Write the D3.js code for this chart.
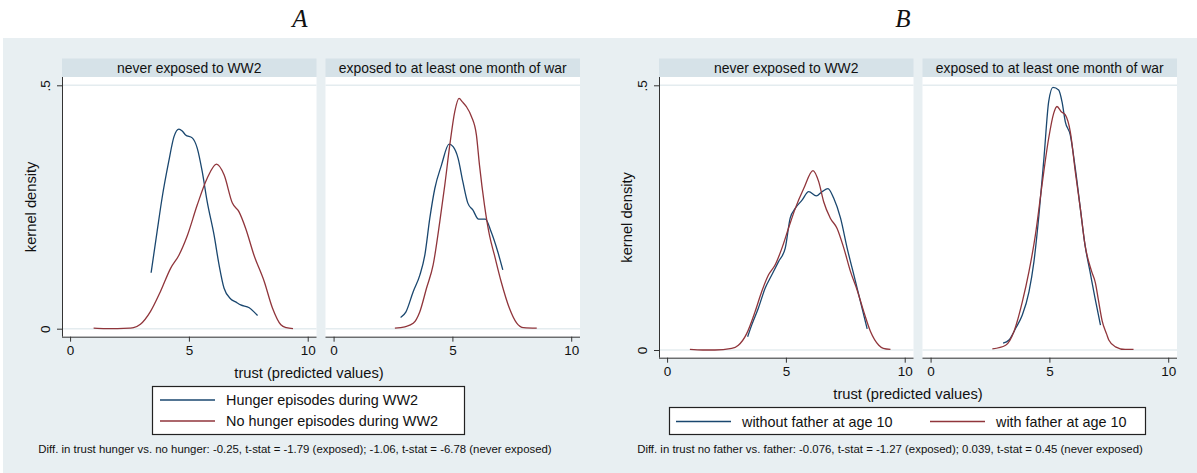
<!DOCTYPE html>
<html>
<head>
<meta charset="utf-8">
<script src="https://cdn.jsdelivr.net/npm/d3@7"></script>
<style>
  html, body { margin: 0; padding: 0; background: #ffffff; }
  svg { display: block; }
  text { font-family: "Liberation Sans", Arial, Helvetica, sans-serif; fill: #111; }
</style>
</head>
<body>
<svg id="chart" width="1197" height="473"></svg>
<script>
// ---- Data: kernel density of predicted trust, [trust, density] ----
const facetLabels = ["never exposed to WW2", "exposed to at least one month of war"];
const xTicks = [0, 5, 10];
const yTicks = [0, 0.5];
const yTickLabels = ["0", ".5"];

// Graph A: hunger episodes
const hungerNever = [[3.41,0.115],[3.66,0.199],[3.87,0.268],[4.15,0.343],[4.37,0.394],[4.58,0.410],[4.72,0.406],[4.86,0.398],[5.14,0.392],[5.35,0.371],[5.56,0.323],[5.77,0.261],[6.06,0.192],[6.27,0.131],[6.48,0.083],[6.76,0.061],[6.97,0.055],[7.18,0.049],[7.54,0.043],[7.89,0.027]];
const noHungerNever = [[0.99,0.001],[1.5,0.0],[2.0,0.0],[2.5,0.001],[2.67,0.002],[2.96,0.009],[3.38,0.035],[3.80,0.076],[4.23,0.124],[4.58,0.151],[4.94,0.192],[5.35,0.254],[5.77,0.309],[6.16,0.338],[6.48,0.316],[6.83,0.258],[7.11,0.240],[7.39,0.206],[7.74,0.151],[8.17,0.097],[8.52,0.042],[8.87,0.008],[9.1,0.002],[9.38,0.0]];
const hungerExposed = [[2.82,0.023],[3.04,0.034],[3.35,0.076],[3.63,0.110],[3.84,0.151],[4.05,0.227],[4.26,0.288],[4.54,0.336],[4.86,0.379],[5.03,0.374],[5.24,0.350],[5.44,0.302],[5.65,0.258],[5.86,0.244],[6.10,0.225],[6.39,0.225],[6.63,0.199],[6.91,0.158],[7.12,0.121]];
const noHungerExposed = [[2.58,0.001],[3.00,0.004],[3.35,0.011],[3.63,0.035],[3.91,0.083],[4.19,0.131],[4.47,0.220],[4.68,0.295],[4.89,0.377],[5.10,0.446],[5.28,0.473],[5.42,0.466],[5.59,0.456],[5.80,0.436],[6.01,0.398],[6.14,0.336],[6.35,0.254],[6.56,0.192],[6.77,0.151],[7.05,0.097],[7.40,0.042],[7.7,0.012],[8.0,0.002],[8.55,0.001]];

// Graph B: father present at age 10
const noFatherNever = [[3.39,0.025],[3.56,0.047],[3.84,0.079],[4.13,0.117],[4.41,0.142],[4.69,0.167],[4.97,0.192],[5.18,0.249],[5.40,0.268],[5.68,0.283],[5.96,0.299],[6.28,0.291],[6.52,0.299],[6.77,0.305],[7.01,0.287],[7.30,0.249],[7.58,0.192],[7.86,0.142],[8.14,0.091],[8.42,0.040]];
const fatherNever = [[0.96,0.001],[1.5,0.0],[2.01,0.0],[2.72,0.003],[3.00,0.009],[3.35,0.031],[3.70,0.072],[3.98,0.110],[4.27,0.142],[4.55,0.161],[4.83,0.192],[5.11,0.230],[5.40,0.268],[5.75,0.305],[6.14,0.339],[6.38,0.318],[6.59,0.280],[6.87,0.249],[7.15,0.230],[7.44,0.192],[7.72,0.148],[8.00,0.113],[8.28,0.072],[8.56,0.035],[8.91,0.009],[9.1,0.003],[9.4,0.001]];
const noFatherExposed = [[3.05,0.013],[3.30,0.019],[3.58,0.041],[3.86,0.066],[4.14,0.110],[4.35,0.167],[4.56,0.255],[4.77,0.362],[4.97,0.469],[5.15,0.496],[5.39,0.491],[5.53,0.469],[5.67,0.431],[5.88,0.406],[6.09,0.343],[6.30,0.268],[6.50,0.198],[6.71,0.148],[6.92,0.098],[7.15,0.047]];
const fatherExposed = [[2.60,0.002],[3.16,0.009],[3.51,0.035],[3.86,0.091],[4.14,0.148],[4.41,0.217],[4.69,0.312],[4.97,0.400],[5.18,0.447],[5.32,0.460],[5.50,0.450],[5.67,0.444],[5.88,0.412],[6.09,0.337],[6.30,0.268],[6.50,0.198],[6.78,0.148],[6.94,0.126],[7.06,0.095],[7.22,0.055],[7.41,0.030],[7.5,0.019],[7.78,0.006],[8.19,0.001],[8.54,0.001]];

const legendA = ["Hunger episodes during WW2", "No hunger episodes during WW2"];
const legendB = ["without father at age 10", "with father at age 10"];
const noteA = "Diff. in trust hunger vs. no hunger: -0.25, t-stat = -1.79 (exposed); -1.06, t-stat = -6.78 (never exposed)";
const noteB = "Diff. in trust no father vs. father: -0.076, t-stat = -1.27 (exposed); 0.039, t-stat = 0.45 (never exposed)";

const BLUE = "#1a476f", RED = "#90353b";
const BG = "#e8eff2", HEADER = "#d6e2e8", GRID = "#e4ecef";

const svg = d3.select("#chart");

// shared light background behind both graphs
svg.append("rect").attr("x", 3).attr("y", 38).attr("width", 1194).attr("height", 435).attr("fill", BG);

const graphs = [
  {
    title: "A", titleX: 300, left: 62,
    plotBottom: 336.7, y0: 328.7,
    panels: [[hungerNever, noHungerNever], [hungerExposed, noHungerExposed]],
    legend: legendA, legendRows: 2,
    legendBox: {x: 152, y: 386, w: 312, h: 48},
    xTitleX: 309, xTitleY: 378,
    yTitleX: 31,
    note: noteA, noteX: 295
  },
  {
    title: "B", titleX: 903, left: 659,
    plotBottom: 357.7, y0: 350,
    panels: [[noFatherNever, fatherNever], [noFatherExposed, fatherExposed]],
    legend: legendB, legendRows: 1,
    legendBox: {x: 669, y: 407, w: 476, h: 27},
    xTitleX: 908, xTitleY: 399,
    yTitleX: 627,
    note: noteB, noteX: 890
  }
];

const panelW = 254.5, gap = 9, headerTop = 58.5, headerBottom = 77, yHalf = 85.3;
const colors = [BLUE, RED];

graphs.forEach(g => {
  const G = svg.append("g");

  // graph letter
  G.append("text").attr("x", g.titleX).attr("y", 27).attr("text-anchor", "middle")
    .style("font-family", "'Liberation Serif', 'DejaVu Serif', serif")
    .style("font-style", "italic").style("font-size", "25px").text(g.title);

  const y = d3.scaleLinear().domain([0, 0.5]).range([g.y0, yHalf]);

  g.panels.forEach((series, p) => {
    const px = g.left + p * (panelW + gap);
    const x = d3.scaleLinear().domain([-0.34, 10.37]).range([px, px + panelW]);

    // facet header
    G.append("rect").attr("x", px).attr("y", headerTop).attr("width", panelW)
      .attr("height", headerBottom - headerTop).attr("fill", HEADER);
    G.append("text").attr("x", px + panelW / 2).attr("y", (headerTop + headerBottom) / 2 + 5)
      .attr("text-anchor", "middle").style("font-size", "13.9px").text(facetLabels[p]);

    // plot region
    G.append("rect").attr("x", px).attr("y", headerBottom).attr("width", panelW)
      .attr("height", g.plotBottom - headerBottom).attr("fill", "#ffffff");

    // gridlines at y ticks
    G.selectAll(null).data(yTicks).join("line")
      .attr("x1", px).attr("x2", px + panelW)
      .attr("y1", d => y(d)).attr("y2", d => y(d))
      .attr("stroke", GRID).attr("stroke-width", 1.6);

    // x axis
    const xAxis = d3.axisBottom(x).tickValues(xTicks).tickSize(5).tickPadding(4).tickFormat(d3.format("d"));
    const ax = G.append("g").attr("transform", `translate(0,${g.plotBottom})`).call(xAxis);
    ax.select(".domain").attr("d", `M${px},0.5H${px + panelW}`).attr("stroke", "#333");
    ax.selectAll(".tick line").attr("stroke", "#333");
    ax.selectAll(".tick text").style("font-size", "13.5px").style("font-family", "'Liberation Sans', Arial, sans-serif").attr("fill", "#111");

    // y axis on first panel only
    if (p === 0) {
      const yAxis = d3.axisLeft(y).tickValues(yTicks).tickSize(5).tickFormat((d, i) => yTickLabels[i]);
      const ay = G.append("g").attr("transform", `translate(${px},0)`).call(yAxis);
      ay.select(".domain").attr("d", `M0.5,${headerBottom}V${g.plotBottom}`).attr("stroke", "#333");
      ay.selectAll(".tick line").attr("stroke", "#333");
      ay.selectAll(".tick text")
        .attr("x", null).attr("dy", null)
        .attr("transform", "translate(-12,0) rotate(-90)")
        .attr("text-anchor", "middle").attr("y", 0)
        .style("font-size", "13.5px").style("font-family", "'Liberation Sans', Arial, sans-serif").attr("fill", "#111");
    }

    // density curves
    const line = d3.line().x(d => x(d[0])).y(d => y(d[1])).curve(d3.curveMonotoneX);
    series.forEach((s, i) => {
      G.append("path").datum(s).attr("d", line).attr("fill", "none")
        .attr("stroke", colors[i]).attr("stroke-width", 1.3);
    });
  });

  // axis titles
  G.append("text").attr("x", g.xTitleX).attr("y", g.xTitleY).attr("text-anchor", "middle")
    .style("font-size", "14.7px").text("trust (predicted values)");
  const ymid = (headerBottom + g.plotBottom) / 2;
  G.append("text").attr("transform", `translate(${g.yTitleX},${ymid}) rotate(-90)`)
    .attr("text-anchor", "middle").attr("dy", "0.35em").style("font-size", "14.7px").text("kernel density");

  // legend
  const lb = g.legendBox;
  G.append("rect").attr("x", lb.x + 0.5).attr("y", lb.y + 0.5).attr("width", lb.w).attr("height", lb.h)
    .attr("fill", "#ffffff").attr("stroke", "#222").attr("stroke-width", 1.2);
  const keys = G.selectAll(null).data(g.legend).join("g")
    .attr("transform", (d, i) => g.legendRows === 2
      ? `translate(${lb.x + 8},${lb.y + 14 + i * 21})`
      : `translate(${lb.x + 7 + i * 254},${lb.y + 14.5})`);
  keys.append("line").attr("x1", 0).attr("x2", 55).attr("stroke", (d, i) => colors[i]).attr("stroke-width", 1.3);
  keys.append("text").attr("x", 66).attr("dy", "0.35em").style("font-size", "14.4px").text(d => d);

  // note
  G.append("text").attr("x", g.noteX).attr("y", 453).attr("text-anchor", "middle")
    .style("font-size", "11.4px").text(g.note);
});
</script>
</body>
</html>
